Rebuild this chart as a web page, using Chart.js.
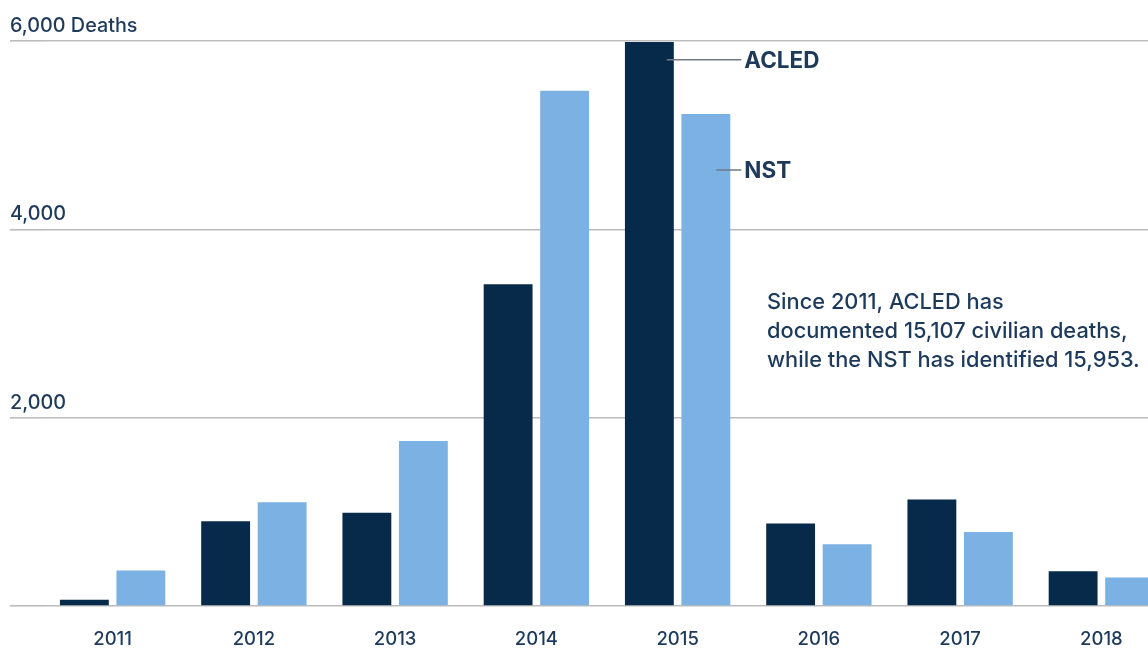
<!DOCTYPE html>
<html>
<head>
<meta charset="utf-8">
<script src="https://cdn.jsdelivr.net/npm/chart.js@4"></script>
<style>
  html, body { margin: 0; padding: 0; background: #fff; overflow: hidden; }
  #wrap { width: 1180px; height: 648px; }
</style>
</head>
<body>
<div id="wrap"><canvas id="deathsChart"></canvas></div>
<script>
const years = ["2011", "2012", "2013", "2014", "2015", "2016", "2017", "2018"];
const acled = [66, 901, 991, 3417, 5990, 875, 1132, 370];
const nst = [377, 1103, 1752, 5472, 5224, 657, 785, 303];
const yTicks = [0, 2000, 4000, 6000];
const note = [
  "Since 2011, ACLED has",
  "documented 15,107 civilian deaths,",
  "while the NST has identified 15,953.",
];

const navy = "#1e3a5b";
const font = "Inter, 'Open Sans', sans-serif";

function tickText(v) {
  if (v === 0) return "";
  const s = v.toLocaleString("en-US");
  return v === 6000 ? s + " Deaths" : s;
}

// y tick labels sit above their grid lines, left aligned at the line start
const yLabelsPlugin = {
  id: "yLabels",
  afterDraw(chart) {
    const c = chart.ctx;
    const y = chart.scales.y;
    c.save();
    c.fillStyle = navy;
    c.font = "500 19.8px " + font;
    c.textBaseline = "alphabetic";
    y.ticks.forEach((t) => {
      c.fillText(tickText(t.value), 10, y.getPixelForValue(t.value) - 9);
    });
    c.restore();
  },
};

// series labels with leader lines next to the 2015 bars, plus the note
const labelsPlugin = {
  id: "seriesLabels",
  afterDatasetsDraw(chart) {
    const c = chart.ctx;
    const y = chart.scales.y;
    const a = chart.getDatasetMeta(0).data[4];
    const n = chart.getDatasetMeta(1).data[4];
    const endX = n.x + n.width / 2 + 11;
    const ya = y.getPixelForValue(5800);
    const yn = y.getPixelForValue(4630);
    c.save();
    c.strokeStyle = "#6f7a86";
    c.lineWidth = 1.5;
    c.beginPath();
    c.moveTo(a.x + a.width / 2 - 7, ya);
    c.lineTo(endX, ya);
    c.moveTo(n.x + n.width / 2 - 14, yn);
    c.lineTo(endX, yn);
    c.stroke();
    c.fillStyle = navy;
    c.font = "700 22.5px " + font;
    c.textBaseline = "middle";
    c.fillText("ACLED", endX + 3, ya + 1);
    c.fillText("NST", endX + 3, yn + 1);
    c.font = "500 21.8px " + font;
    note.forEach((t, i) => c.fillText(t, 767, 302 + i * 29));
    c.restore();
  },
};

const ctx = document.getElementById("deathsChart").getContext("2d");
const deathsChart = new Chart(ctx, {
  type: "bar",
  data: {
    labels: years,
    datasets: [
      {
        label: "ACLED",
        data: acled,
        backgroundColor: "#072a4b",
        categoryPercentage: 0.8,
        barPercentage: 0.865,
      },
      {
        label: "NST",
        data: nst,
        backgroundColor: "#7bb1e3",
        categoryPercentage: 0.8,
        barPercentage: 0.865,
      },
    ],
  },
  options: {
    responsive: true,
    maintainAspectRatio: false,
    animation: false,
    layout: { padding: { left: 10, right: 8, top: 41, bottom: 0 } },
    plugins: {
      legend: { display: false },
      tooltip: { enabled: false },
    },
    scales: {
      x: {
        grid: { display: false },
        border: { display: false },
        ticks: {
          color: navy,
          font: { family: font, size: 18.5, weight: 500 },
          padding: 14,
          maxRotation: 0,
        },
        afterFit(scale) { scale.height = 42; },
      },
      y: {
        min: 0,
        max: 6000,
        afterBuildTicks(scale) { scale.ticks = yTicks.map((v) => ({ value: v })); },
        afterFit(scale) { scale.width = 32; },
        border: { display: false },
        grid: {
          color: "#bcbcbc",
          lineWidth: 1.6,
          drawTicks: true,
          tickLength: 32,
        },
        ticks: { display: false },
      },
    },
  },
  plugins: [labelsPlugin, yLabelsPlugin],
});
</script>
</body>
</html>
